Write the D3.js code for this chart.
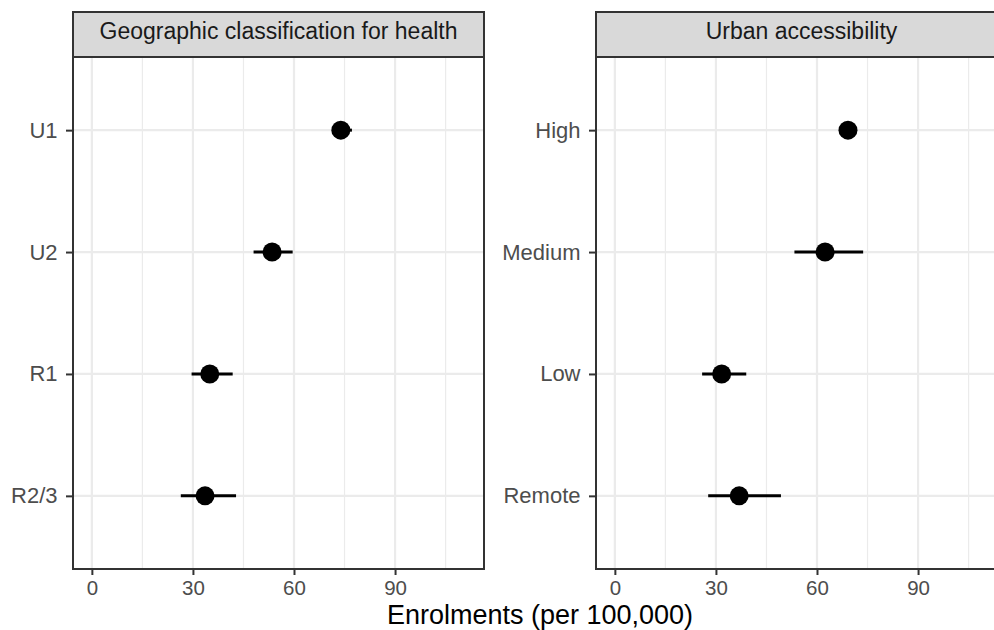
<!DOCTYPE html>
<html>
<head>
<meta charset="utf-8">
<script src="https://cdn.jsdelivr.net/npm/d3@7"></script>
<style>
  body { margin: 0; background: #fff; }
  svg { display: block; font-family: "Liberation Sans", Arial, Helvetica, sans-serif; }
</style>
</head>
<body>
<script>
// facet titles
var panelTitles = ["Geographic classification for health", "Urban accessibility"];

// left facet
var geoCats = ["U1", "U2", "R1", "R2/3"];
var geoEst  = [73.9, 53.5, 35.0, 33.6];
var geoLo   = [71.5, 48.0, 29.6, 26.4];
var geoHi   = [77.2, 59.6, 41.8, 42.8];

// right facet
var accCats = ["High", "Medium", "Low", "Remote"];
var accEst  = [69.2, 62.4, 31.7, 36.9];
var accLo   = [67.6, 53.3, 25.9, 27.7];
var accHi   = [70.6, 73.7, 39.0, 49.3];

var xTicks = [0, 30, 60, 90];
var xMinor = [15, 45, 75, 105];
var xTitle = "Enrolments (per 100,000)";

var width = 994, height = 630;
var panelW = 411, panelTop = 57, panelBottom = 569, stripTop = 12;
var panelLefts = [73, 596];

var svg = d3.select("body").append("svg")
  .attr("width", width)
  .attr("height", height);

var x = d3.scaleLinear()
  .domain([-5.6, 116.4])
  .range([0, panelW]);

var facets = [
  { title: panelTitles[0], cats: geoCats, est: geoEst, lo: geoLo, hi: geoHi },
  { title: panelTitles[1], cats: accCats, est: accEst, lo: accLo, hi: accHi }
];

facets.forEach(function(f, i) {
  var g = svg.append("g")
    .attr("transform", "translate(" + panelLefts[i] + ",0)");

  var y = d3.scalePoint()
    .domain(f.cats)
    .range([panelTop, panelBottom])
    .padding(0.6);

  // minor grid
  g.selectAll(".minor").data(xMinor).enter().append("line")
    .attr("x1", function(d) { return x(d); })
    .attr("x2", function(d) { return x(d); })
    .attr("y1", panelTop).attr("y2", panelBottom)
    .attr("stroke", "#EBEBEB").attr("stroke-width", 1.2);

  // major grid
  g.selectAll(".majorx").data(xTicks).enter().append("line")
    .attr("x1", function(d) { return x(d); })
    .attr("x2", function(d) { return x(d); })
    .attr("y1", panelTop).attr("y2", panelBottom)
    .attr("stroke", "#EBEBEB").attr("stroke-width", 2.2);

  g.selectAll(".majory").data(f.cats).enter().append("line")
    .attr("x1", 0).attr("x2", panelW)
    .attr("y1", function(d) { return y(d); })
    .attr("y2", function(d) { return y(d); })
    .attr("stroke", "#EBEBEB").attr("stroke-width", 2.2);

  // error bars
  g.selectAll(".err").data(f.cats).enter().append("line")
    .attr("x1", function(d, j) { return x(f.lo[j]); })
    .attr("x2", function(d, j) { return x(f.hi[j]); })
    .attr("y1", function(d) { return y(d); })
    .attr("y2", function(d) { return y(d); })
    .attr("stroke", "#000").attr("stroke-width", 3);

  // points
  g.selectAll(".pt").data(f.cats).enter().append("circle")
    .attr("cx", function(d, j) { return x(f.est[j]); })
    .attr("cy", function(d) { return y(d); })
    .attr("r", 9.5)
    .attr("fill", "#000");

  // panel border
  g.append("rect")
    .attr("x", 0).attr("y", panelTop)
    .attr("width", panelW).attr("height", panelBottom - panelTop)
    .attr("fill", "none").attr("stroke", "#333333").attr("stroke-width", 2);

  // strip
  g.append("rect")
    .attr("x", 0).attr("y", stripTop)
    .attr("width", panelW).attr("height", panelTop - stripTop)
    .attr("fill", "#D9D9D9").attr("stroke", "#333333").attr("stroke-width", 2);
  g.append("text")
    .attr("x", panelW / 2).attr("y", 39)
    .attr("text-anchor", "middle")
    .attr("fill", "#1A1A1A")
    .style("font-size", "23px")
    .text(f.title);

  // x axis
  var xAxis = g.append("g")
    .attr("transform", "translate(0," + panelBottom + ")")
    .call(d3.axisBottom(x).tickValues(xTicks).tickSize(6).tickPadding(5).tickFormat(d3.format("d")));
  xAxis.select(".domain").remove();
  xAxis.selectAll(".tick line").attr("stroke", "#333333").attr("stroke-width", 2);
  xAxis.selectAll(".tick text")
    .attr("fill", "#4D4D4D")
    .style("font-size", "20.5px")
    .style("font-family", "inherit");

  // y axis
  var yAxis = g.append("g")
    .call(d3.axisLeft(y).tickSize(7).tickPadding(8.5));
  yAxis.select(".domain").remove();
  yAxis.selectAll(".tick line").attr("stroke", "#333333").attr("stroke-width", 2);
  yAxis.selectAll(".tick text")
    .attr("fill", "#4D4D4D")
    .style("font-size", "22px")
    .style("font-family", "inherit");
});

// shared x title
svg.append("text")
  .attr("x", (panelLefts[0] + panelLefts[1] + panelW) / 2)
  .attr("y", 624)
  .attr("text-anchor", "middle")
  .attr("fill", "#000")
  .style("font-size", "27px")
  .text(xTitle);
</script>
</body>
</html>
